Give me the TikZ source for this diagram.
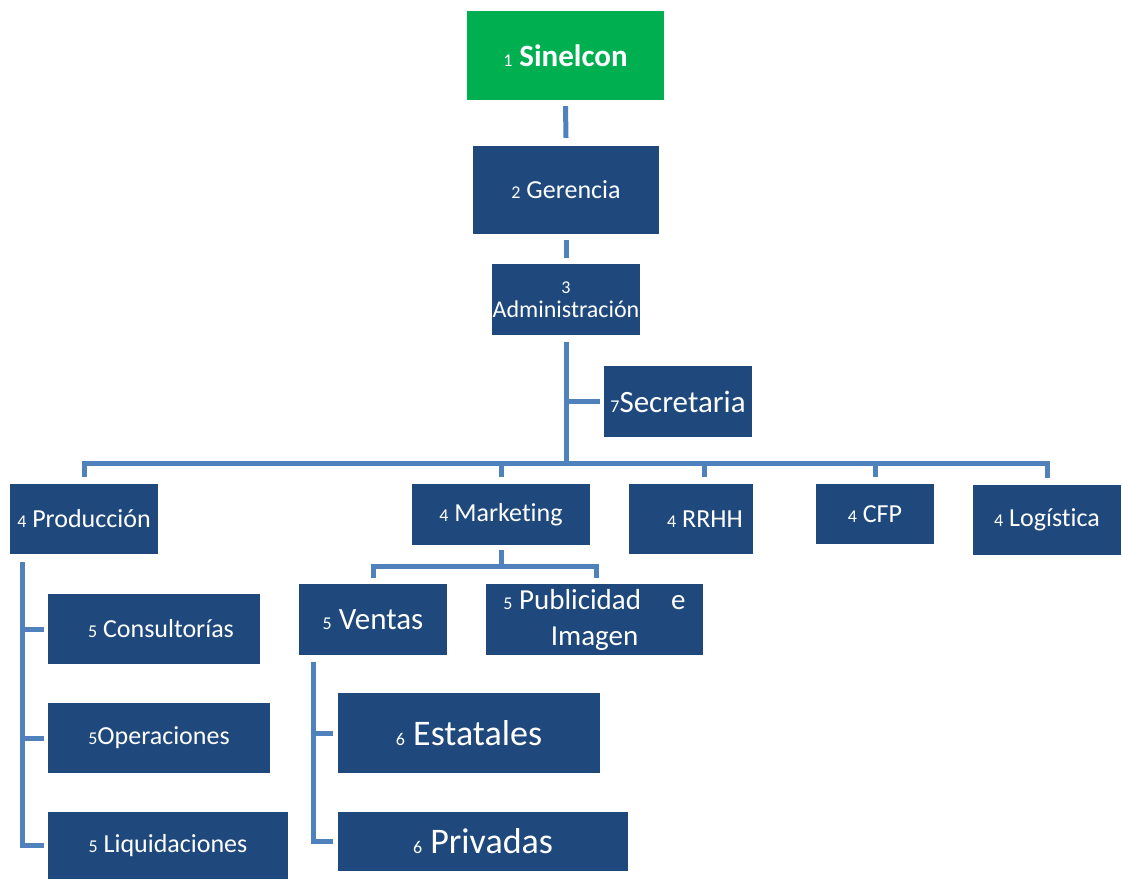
\documentclass[tikz,border=0pt]{standalone}
\usepackage{fontspec}
\setmainfont{Carlito}[Ligatures=NoCommon]
\usetikzlibrary{positioning}
\definecolor{boxblue}{RGB}{31,73,125}
\definecolor{lineblue}{RGB}{79,129,189}
\definecolor{topgreen}{RGB}{0,176,80}
\newcommand{\boxnum}[1]{{\mdseries\fontsize{18}{21}\selectfont #1}}

\begin{document}
\begin{tikzpicture}[x=1pt, y=-1pt,
  box/.style={fill=boxblue, text=white, inner sep=0pt, align=center, font=\fontsize{26}{31}\selectfont},
  big/.style={font=\fontsize{31}{37}\selectfont},
  huge/.style={font=\fontsize{36}{43}\selectfont},
  conn/.style={draw=lineblue, line width=5pt}]
\useasboundingbox (0,0) rectangle (1122,879);
\node (sinelcon) [box, fill=topgreen, minimum width=197pt, minimum height=89pt, font=\bfseries\fontsize{31}{37}\selectfont] at (565.5,55.5) {\boxnum{1} Sinelcon};
\node (gerencia) [box, minimum width=186pt, minimum height=88pt] at (566,190) {\boxnum{2} Gerencia};
\node (admin) [box, minimum width=148pt, minimum height=71pt, font=\fontsize{24}{23}\selectfont] at (566,299.5) {\boxnum{3}\\[1pt]Administración};
\node (secretaria) [box, big, minimum width=148pt, minimum height=71pt] at (678,401.5) {\boxnum{7}Secretaria};
\node (produccion) [box, minimum width=148pt, minimum height=70pt] at (84,519) {\boxnum{4} Producción};
\node (marketing) [box, minimum width=178pt, minimum height=61pt] at (501,514.5) {\boxnum{4} Marketing};
\node (rrhh) [box, minimum width=124pt, minimum height=70pt] at (691,519) {\hspace*{28pt}\boxnum{4} RRHH};
\node (cfp) [box, minimum width=118pt, minimum height=60pt] at (875,514) {\boxnum{4} CFP};
\node (logistica) [box, minimum width=148pt, minimum height=70pt] at (1047,520) {\boxnum{4} Logística};
\node (ventas) [box, big, minimum width=148pt, minimum height=71pt] at (373,619.5) {\boxnum{5} Ventas};
\node (publicidad) [box, minimum width=217pt, minimum height=71pt, font=\fontsize{29}{36}\selectfont] at (594.5,619.5) {\boxnum{5} Publicidad\hspace{30pt}e\\Imagen};
\node (consultorias) [box, minimum width=212pt, minimum height=70pt] at (154,629) {\hspace*{14pt}\boxnum{5} Consultorías};
\node (operaciones) [box, minimum width=222pt, minimum height=70pt] at (159,738) {\boxnum{5}Operaciones};
\node (liquidaciones) [box, minimum width=240pt, minimum height=67pt] at (168,845.5) {\boxnum{5} Liquidaciones};
\node (estatales) [box, huge, minimum width=262pt, minimum height=80pt] at (469,733) {\boxnum{6} Estatales};
\node (privadas) [box, huge, minimum width=290pt, minimum height=59pt] at (483,841.5) {\boxnum{6} Privadas};

\coordinate (bus) at (566,463);
\coordinate (mbus) at (501,566);
\coordinate (ptop) at (22,562);
\coordinate (vtop) at (313,662);

% top of the chart
\draw[conn] ([yshift=-6pt]sinelcon.south) -- ([yshift=8pt]gerencia.north);
\draw[conn] ([yshift=-6pt]gerencia.south) -- ([yshift=6pt]admin.north);
\draw[conn] ([yshift=-7pt]admin.south) -- (bus);
\draw[conn] (admin.south |- secretaria.west) -- ([xshift=-4pt]secretaria.west);
% main bus
\draw[conn] ([yshift=7pt]produccion.north) |- (bus) -| ([yshift=7pt]logistica.north);
\draw[conn] ([yshift=7pt]marketing.north) -- (marketing.north |- bus);
\draw[conn] ([xshift=13pt,yshift=7pt]rrhh.north) -- ([xshift=13pt]rrhh.north |- bus);
\draw[conn] ([yshift=7pt]cfp.north) -- (cfp.north |- bus);
% marketing
\draw[conn] ([yshift=-5pt]marketing.south) -- (mbus);
\draw[conn] ([yshift=6pt]ventas.north) |- (mbus) -| ([xshift=1.5pt,yshift=6pt]publicidad.north);
% produccion
\draw[conn] (ptop) |- ([xshift=-4pt]liquidaciones.west);
\draw[conn] (ptop |- consultorias.west) -- ([xshift=-4pt]consultorias.west);
\draw[conn] (ptop |- operaciones.west) -- ([xshift=-4pt]operaciones.west);
% ventas
\draw[conn] (vtop) |- ([xshift=-5pt]privadas.west);
\draw[conn] (vtop |- estatales.west) -- ([xshift=-5pt]estatales.west);
\end{tikzpicture}
\end{document}
